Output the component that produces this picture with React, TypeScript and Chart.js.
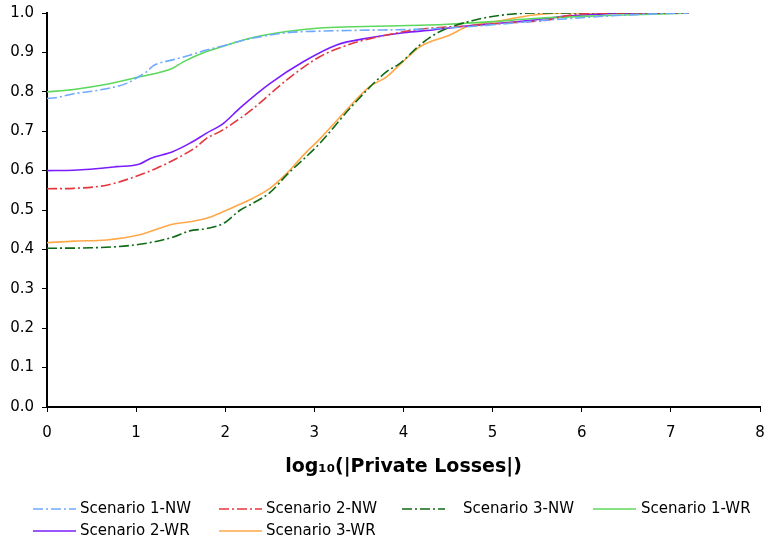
import React, { useEffect, useRef } from "react";
import { Chart, registerables } from "chart.js";

Chart.register(...registerables);

// Cumulative share of events versus log10 of private losses, per scenario.
const s1nwX = [0, 0.1, 0.3, 0.6, 0.9, 1.04, 1.12, 1.19, 1.25, 1.41, 1.6, 1.79, 2.0, 2.17, 2.4, 2.69, 3.06, 3.5, 4.19, 4.7, 5.1, 5.5, 6.0, 6.5, 7.0, 7.2];
const s1nwY = [0.783, 0.785, 0.795, 0.805, 0.822, 0.84, 0.851, 0.866, 0.872, 0.881, 0.893, 0.906, 0.918, 0.929, 0.94, 0.95, 0.954, 0.956, 0.959, 0.965, 0.972, 0.98, 0.988, 0.995, 0.999, 1.0];

const s2nwX = [0, 0.3, 0.67, 0.93, 1.23, 1.53, 1.68, 1.79, 1.94, 2.17, 2.31, 2.69, 3.06, 3.43, 3.81, 4.19, 4.71, 5.08, 5.61, 5.83, 6.3, 7.2];
const s2nwY = [0.554, 0.555, 0.563, 0.58, 0.606, 0.64, 0.661, 0.682, 0.699, 0.733, 0.757, 0.83, 0.889, 0.923, 0.944, 0.959, 0.967, 0.974, 0.982, 0.993, 1.0, 1.0];

const s3nwX = [0, 0.49, 1.04, 1.41, 1.6, 1.79, 1.98, 2.17, 2.31, 2.5, 2.69, 3.06, 3.43, 3.81, 3.96, 4.19, 4.41, 4.78, 5.2, 5.64, 7.2];
const s3nwY = [0.403, 0.404, 0.413, 0.431, 0.447, 0.453, 0.466, 0.5, 0.517, 0.544, 0.589, 0.669, 0.766, 0.851, 0.872, 0.92, 0.953, 0.981, 0.997, 1.0, 1.0];

const s1wrX = [0, 0.3, 0.67, 1.04, 1.41, 1.53, 1.79, 1.94, 2.17, 2.31, 2.69, 3.06, 3.43, 4.19, 4.45, 5.0, 5.46, 6.2, 6.8, 7.2];
const s1wrY = [0.8, 0.806, 0.819, 0.838, 0.86, 0.876, 0.902, 0.913, 0.929, 0.938, 0.953, 0.962, 0.965, 0.969, 0.971, 0.978, 0.986, 0.993, 0.997, 1.0];

const s2wrX = [0, 0.3, 0.78, 1.04, 1.16, 1.41, 1.6, 1.79, 1.98, 2.17, 2.5, 2.88, 3.25, 3.62, 4.0, 4.33, 4.71, 5.08, 5.46, 5.83, 6.2, 6.6, 7.2];
const s2wrY = [0.6, 0.601, 0.61, 0.617, 0.631, 0.648, 0.669, 0.695, 0.72, 0.76, 0.821, 0.877, 0.919, 0.937, 0.95, 0.957, 0.967, 0.974, 0.982, 0.992, 0.997, 1.0, 1.0];

const s3wrX = [0, 0.3, 0.67, 1.04, 1.41, 1.6, 1.79, 1.98, 2.17, 2.31, 2.5, 2.69, 2.88, 3.06, 3.43, 3.62, 3.81, 4.0, 4.19, 4.52, 4.71, 5.08, 5.46, 5.83, 7.2];
const s3wrY = [0.417, 0.421, 0.424, 0.437, 0.464, 0.47, 0.479, 0.496, 0.515, 0.53, 0.555, 0.593, 0.64, 0.68, 0.771, 0.813, 0.838, 0.878, 0.915, 0.944, 0.965, 0.98, 0.995, 1.0, 1.0];

const seriesLabels = ["Scenario 1-NW", "Scenario 2-NW", "Scenario 3-NW", "Scenario 1-WR", "Scenario 2-WR", "Scenario 3-WR"];
const seriesColors = ["#6eaaff", "#e4363c", "#0f6a14", "#5cd85c", "#7a1cff", "#ffa848"];
const dashDot = [10, 3, 2, 3];

const FONT = "'DejaVu Sans', Verdana, sans-serif";

const toPoints = (xs: number[], ys: number[]) => xs.map((x, i) => ({ x, y: ys[i] }));

// Legend drawn as a fixed grid of four columns below the axis title.
const gridLegend = {
  id: "gridLegend",
  afterDraw(chart: any) {
    const ctx = chart.ctx as CanvasRenderingContext2D;
    const lineStart = [33, 219, 402, 593];
    const textStart = [80, 266, 463, 641];
    const rowY = [509, 531];
    const lineLen = 43;
    ctx.save();
    ctx.font = `15px ${FONT}`;
    ctx.textBaseline = "middle";
    ctx.textAlign = "left";
    chart.data.datasets.forEach((ds: any, i: number) => {
      const col = i % 4;
      const row = Math.floor(i / 4);
      const y = rowY[row];
      ctx.save();
      ctx.strokeStyle = ds.borderColor;
      ctx.globalAlpha = 0.75;
      ctx.lineWidth = 2;
      ctx.setLineDash(ds.borderDash || []);
      ctx.beginPath();
      ctx.moveTo(lineStart[col], y);
      ctx.lineTo(lineStart[col] + lineLen, y);
      ctx.stroke();
      ctx.restore();
      ctx.fillStyle = "#000";
      ctx.fillText(ds.label, textStart[col], y);
    });
    ctx.restore();
  },
};

export default function App() {
  const canvasRef = useRef<HTMLCanvasElement | null>(null);

  useEffect(() => {
    if (!canvasRef.current) return;
    const xsList = [s1nwX, s2nwX, s3nwX, s1wrX, s2wrX, s3wrX];
    const ysList = [s1nwY, s2nwY, s3nwY, s1wrY, s2wrY, s3wrY];
    const datasets = seriesLabels.map((label, i) => ({
      label,
      data: toPoints(xsList[i], ysList[i]),
      borderColor: seriesColors[i],
      backgroundColor: seriesColors[i],
      borderWidth: 1.6,
      borderDash: i < 3 ? dashDot : [],
      pointRadius: 0,
      fill: false,
      cubicInterpolationMode: "monotone" as const,
    }));

    const chart = new Chart(canvasRef.current, {
      type: "line",
      data: { datasets },
      options: {
        animation: false,
        responsive: true,
        maintainAspectRatio: false,
        layout: { padding: { top: 13, right: 4, left: 0, bottom: 0 } },
        plugins: {
          legend: { display: false },
          tooltip: { enabled: false },
        },
        scales: {
          x: {
            type: "linear",
            min: 0,
            max: 8,
            afterFit: (scale: any) => {
              scale.height = 133;
              scale.paddingLeft = 0;
              scale.paddingRight = 0;
            },
            ticks: {
              stepSize: 1,
              padding: 12,
              color: "#000",
              font: { family: FONT, size: 15 },
            },
            grid: { drawOnChartArea: false, drawTicks: true, tickLength: 5, color: "#000" },
            border: { display: true, color: "#000", width: 2 },
            title: {
              display: true,
              text: "log\u2081\u2080(|Private Losses|)",
              color: "#000",
              font: { family: FONT, size: 19, weight: "bold" },
              padding: { top: 4, bottom: 62 },
            },
          },
          y: {
            type: "linear",
            min: 0,
            max: 1,
            afterFit: (scale: any) => {
              scale.width = 47;
              scale.paddingTop = 0;
              scale.paddingBottom = 0;
            },
            ticks: {
              stepSize: 0.1,
              padding: 8,
              color: "#000",
              font: { family: FONT, size: 15 },
              callback: (v: any) => Number(v).toFixed(1),
            },
            grid: { drawOnChartArea: false, drawTicks: true, tickLength: 5, color: "#000" },
            border: { display: true, color: "#000", width: 2 },
          },
        },
      },
      plugins: [gridLegend],
    });
    return () => chart.destroy();
  }, []);

  return (
    <div style={{ position: "fixed", left: 0, top: 0, width: 764, height: 540, background: "#fff" }}>
      <canvas ref={canvasRef} />
    </div>
  );
}
